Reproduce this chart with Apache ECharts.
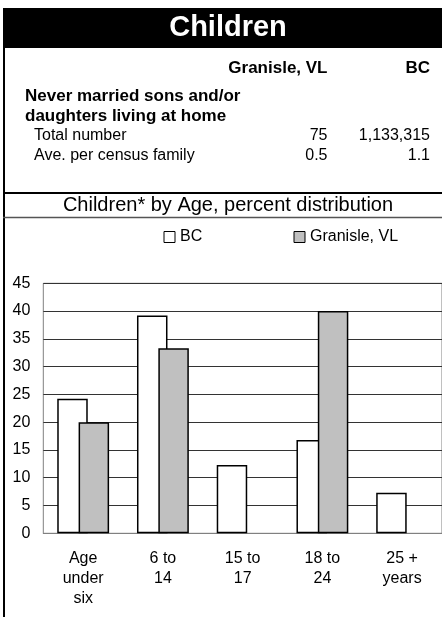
<!DOCTYPE html>
<html>
<head>
<meta charset="utf-8">
<script src="https://cdn.jsdelivr.net/npm/echarts@6/dist/echarts.min.js"></script>
<style>
html,body{margin:0;padding:0;background:#fff;}
#chart{width:442px;height:617px;}
</style>
</head>
<body>
<div id="chart"></div>
<script>
// ---- data ----
var categories = ['Age\nunder\nsix', '6 to\n14', '15 to\n17', '18 to\n24', '25 +\nyears'];
var bcValues = [24.2, 39.2, 12.3, 16.8, 7.3];
var granisleValues = [20.0, 33.3, null, 40.0, null];
var seriesNames = ['BC', 'Granisle, VL'];
var yTicks = [0, 5, 10, 15, 20, 25, 30, 35, 40, 45];
var headerTitle = 'Children';
var chartTitle = 'Children* by Age, percent distribution';
var tableColumns = ['Granisle, VL', 'BC'];
var tableHeading = ['Never married sons and/or', 'daughters living at home'];
var tableRowLabels = ['Total number', 'Ave. per census family'];
var granisleTable = ['75', '0.5'];
var bcTable = ['1,133,315', '1.1'];

var FONT = '"Liberation Sans", Arial, sans-serif';
var chart = echarts.init(document.getElementById('chart'), null, {renderer: 'canvas'});

function txt(text, x, y, size, bold, align, fill) {
  return {
    type: 'text', z: 10,
    style: {
      text: text, x: x, y: y,
      font: (bold ? 'bold ' : '') + size + 'px ' + FONT,
      fill: fill || '#000',
      align: align || 'left',
      verticalAlign: 'middle'
    }
  };
}

var graphics = [
  {type: 'rect', z: 5, shape: {x: 3, y: 8, width: 439, height: 40}, style: {fill: '#000'}},
  {type: 'line', z: 5, shape: {x1: 4, y1: 48, x2: 4, y2: 617}, style: {stroke: '#000', lineWidth: 2}},
  {type: 'line', z: 5, shape: {x1: 3, y1: 193, x2: 442, y2: 193}, style: {stroke: '#000', lineWidth: 2}},
  {type: 'line', z: 5, shape: {x1: 3, y1: 217.5, x2: 442, y2: 217.5}, style: {stroke: '#555', lineWidth: 1.5}},
  txt(headerTitle, 228, 28, 29, true, 'center', '#fff'),
  txt(tableColumns[0], 327.5, 68, 17, true, 'right'),
  txt(tableColumns[1], 430, 68, 17, true, 'right'),
  txt(tableHeading[0], 25, 96, 17, true, 'left'),
  txt(tableHeading[1], 25, 116, 17, true, 'left'),
  txt(chartTitle, 228, 205, 20, false, 'center')
];
for (var i = 0; i < tableRowLabels.length; i++) {
  var yy = 136 + i * 20;
  graphics.push(txt(tableRowLabels[i], 34, yy, 16, false, 'left'));
  graphics.push(txt(granisleTable[i], 327.5, yy, 16, false, 'right'));
  graphics.push(txt(bcTable[i], 430, yy, 16, false, 'right'));
}

var legendText = {color: '#000', fontSize: 16, fontFamily: FONT, lineHeight: 16};

var option = {
  animation: false,
  backgroundColor: '#fff',
  textStyle: {fontFamily: FONT},
  graphic: graphics,
  legend: [
    {
      data: [{name: seriesNames[0], itemStyle: {color: '#fff', borderColor: '#000', borderWidth: 1}}],
      left: 163.5, top: 229, padding: 0, itemWidth: 11, itemHeight: 11, icon: 'rect',
      textStyle: legendText, selectedMode: false
    },
    {
      data: [{name: seriesNames[1], itemStyle: {color: '#c0c0c0', borderColor: '#000', borderWidth: 1}}],
      left: 293.5, top: 229, padding: 0, itemWidth: 11, itemHeight: 11, icon: 'rect',
      textStyle: legendText, selectedMode: false
    }
  ],
  grid: {
    left: 43.3, top: 283.3, width: 400, height: 250,
    show: true, borderColor: '#808080', borderWidth: 1, backgroundColor: 'transparent'
  },
  xAxis: {
    type: 'category',
    data: categories,
    axisLine: {show: true, lineStyle: {color: '#808080', width: 1}},
    axisTick: {show: false},
    axisLabel: {color: '#000', fontSize: 16, fontFamily: FONT, lineHeight: 20, margin: 15, interval: 0, align: 'center'},
    splitLine: {show: false}
  },
  yAxis: {
    type: 'value',
    min: yTicks[0], max: yTicks[yTicks.length - 1], interval: yTicks[1] - yTicks[0],
    axisLine: {show: false},
    axisTick: {show: false},
    axisLabel: {color: '#000', fontSize: 16, fontFamily: FONT, margin: 13},
    splitLine: {show: true, lineStyle: {color: '#333', width: 1}}
  },
  series: [
    {
      name: seriesNames[0], type: 'bar', data: bcValues,
      barWidth: 30.5, barGap: '-30%',
      itemStyle: {color: '#fff', borderColor: '#000', borderWidth: 1.5}
    },
    {
      name: seriesNames[1], type: 'bar', data: granisleValues,
      barWidth: 30.5, barGap: '-30%',
      itemStyle: {color: '#c0c0c0', borderColor: '#000', borderWidth: 1.5}
    }
  ]
};
chart.setOption(option);
</script>
</body>
</html>
